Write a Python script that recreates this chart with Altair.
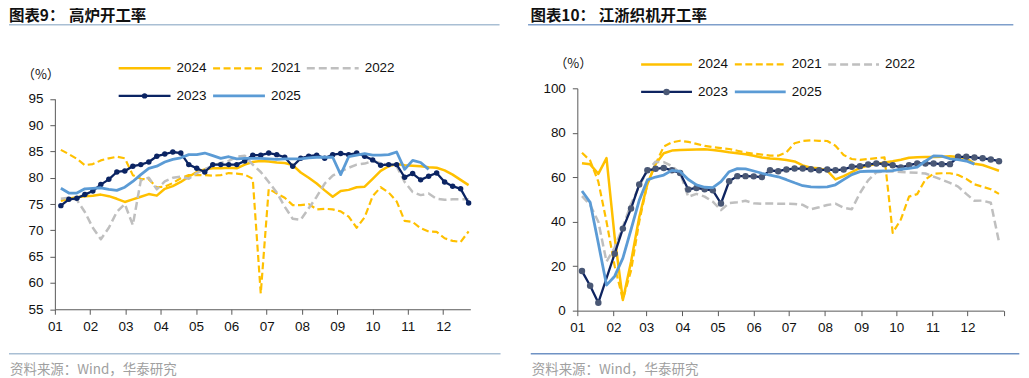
import altair as alt
import pandas as pd

# ================= 图表9：高炉开工率 (weekly) =================
L_WEEK_X0 = 1.17      # first weekly observation, month-number units (01 = 1)
L_WEEK_STEP = 0.2265  # one week, in months
L_2024 = [75.6, 76.0, 76.3, 76.5, 76.6, 76.8, 76.5, 76.0, 75.4, 75.9,
          76.4, 76.9, 76.6, 77.9, 78.4, 79.2, 80.2, 81.1, 81.6, 81.8,
          81.8, 81.9, 81.8, 82.5, 83.0, 83.2, 83.1, 82.9, 82.8, 82.4,
          81.0, 80.0, 78.9, 77.6, 76.4, 77.5, 77.7, 78.2, 78.3, 79.8,
          81.3, 82.2, 82.6, 82.4, 82.3, 82.2, 82.0, 81.9, 81.4, 80.6,
          79.6, 78.6]
L_2021 = [85.3, 84.5, 83.6, 82.4, 82.6, 83.3, 83.7, 84.0, 83.7, 80.5,
          79.8, 79.7, 78.2, 78.3, 79.0, 79.9, 80.5, 80.5, 80.5, 80.4,
          80.5, 80.9, 80.8, 80.6, 79.8, 58.0, 77.9, 77.0, 76.2, 74.8,
          74.8, 75.0, 74.0, 74.1, 74.0, 73.6, 72.6, 70.5, 72.5, 76.5,
          78.2, 77.2, 75.5, 71.8, 71.6, 70.4, 69.8, 69.7, 68.5, 68.0,
          67.8, 69.8]
L_2022 = [76.0, 76.2, 75.8, 73.5, 70.5, 68.3, 70.5, 73.5, 75.0, 71.0,
          79.5, 80.0, 77.8, 79.3, 80.0, 80.2, 79.8, 80.9, 81.6, 82.3,
          82.8, 83.2, 84.0, 84.2, 82.5, 81.1, 79.2, 77.2, 74.5, 72.2,
          72.0, 74.2, 76.4, 78.9, 80.4, 81.2, 81.9, 82.5, 82.7, 83.2,
          82.8, 82.4, 82.2, 79.2, 77.3, 76.7, 77.0, 76.0, 75.8, 75.9,
          75.9, 75.9]
L_2023 = [74.7, 75.9, 76.1, 76.8, 77.5, 78.7, 79.7, 81.1, 81.3, 82.2,
          82.5, 83.0, 84.1, 84.5, 84.9, 84.7, 82.5, 81.8, 81.1, 82.5,
          82.5, 82.5, 82.5, 83.2, 84.3, 84.3, 84.7, 84.4, 83.9, 82.2,
          83.7, 84.1, 84.3, 83.7, 84.4, 84.6, 84.4, 84.7, 84.1, 83.4,
          82.4, 82.5, 82.5, 80.1, 80.8, 79.6, 80.3, 80.9, 79.2, 78.4,
          77.9, 75.2]
L_2025 = [78.0, 77.1, 77.1, 77.9, 78.0, 78.1, 77.8, 77.6, 78.2, 79.3,
          80.6, 81.8, 82.2, 83.0, 83.5, 83.8, 84.4, 84.4, 84.7, 84.2,
          83.7, 84.0, 83.6, 83.7, 83.7, 83.7, 83.6, 83.5, 83.6, 83.6,
          83.6, 83.8, 83.9, 83.9, 83.9, 80.6, 84.0, 84.3, 84.6, 84.3,
          84.3, 84.4, 84.9, 81.6, 83.3, 82.9, 81.6,
          None, None, None, None, None]
L_YTICKS = [55, 60, 65, 70, 75, 80, 85, 90, 95]
L_XTICKS = list(range(1, 13))

# ================= 图表10：江浙织机开工率 (weekly, dates) =================
R_FIRST_DATE = "2023-01-05"
R_2024 = [66.3, 65.8, 61.5, 68.6, 33.0, 4.8, 22.0, 42.0, 57.0, 66.0,
          70.8, 72.0, 72.3, 72.4, 72.5, 72.6, 72.3, 71.8, 71.2, 70.8,
          70.3, 69.7, 68.9, 68.4, 68.2, 67.8, 67.1, 65.3, 64.3, 64.0,
          63.0, 59.0, 60.5, 62.3, 64.2, 65.3, 66.0, 66.6, 67.2, 67.9,
          68.8, 69.0, 69.1, 69.1, 69.2, 69.4, 69.1, 68.5, 66.1, 65.5,
          64.2, 62.9]
R_2021 = [71.0, 67.5, 58.0, 40.0, 20.0, 5.0, 18.0, 40.0, 57.0, 66.0,
          73.8, 75.7, 76.4, 75.9, 75.0, 74.1, 73.6, 73.1, 72.7, 71.9,
          71.1, 70.6, 70.2, 69.7, 69.7, 71.2, 75.3, 76.3, 76.6, 76.4,
          76.3, 74.2, 70.0, 68.2, 67.8, 68.2, 68.6, 68.9, 35.0, 41.0,
          51.3, 52.4, 59.0, 61.6, 61.8, 61.8, 61.0, 59.3, 56.8, 55.7,
          54.6, 52.5]
R_2022 = [51.5, 47.5, 40.0, 22.0, 28.4, 37.7, 48.0, 56.0, 63.0, 67.0,
          66.8, 65.0, 62.0, 51.2, 52.5, 51.3, 49.0, 45.2, 48.4, 48.8,
          49.4, 48.3, 48.1, 48.2, 48.1, 48.1, 48.0, 47.6, 45.6, 46.5,
          47.5, 48.1, 46.3, 45.6, 52.9, 58.6, 62.2, 62.6, 62.6, 62.4,
          62.2, 62.0, 61.7, 60.3, 58.9, 57.5, 55.8, 52.5, 49.4, 49.5,
          48.5, 31.0]
R_2023 = [17.8, 11.2, 3.6, None, 25.6, 36.9, 45.9, 56.7, 63.1, 63.8,
          64.2, 63.1, 61.9, 54.5, 55.2, 54.6, 54.1, 48.2, 58.2, 60.5,
          60.5, 60.4, 60.1, 63.1, 62.7, 63.5, 63.9, 63.9, 63.6, 63.1,
          63.5, 63.1, 63.5, 64.7, 65.0, 65.7, 66.2, 65.9, 65.4, 64.4,
          65.4, 66.2, 66.2, 66.2, 65.9, 65.9, 69.2, 69.2, 68.9, 68.5,
          68.0, 67.2]
R_2025 = [53.8, 48.7, 30.3, 11.5, 15.5, 23.6, 36.5, 49.6, 58.8, 60.1,
          61.0, 63.1, 62.6, 59.0, 56.6, 55.5, 55.3, 58.0, 62.5, 63.9,
          63.8, 62.8, 61.8, 60.9, 60.2, 58.9, 57.5, 56.2, 55.7, 55.6,
          55.7, 56.6, 58.9, 61.2, 62.5, 62.7, 62.7, 62.8, 63.0, 63.6,
          64.0, 64.5, 67.2, 69.6, 69.5, 68.3, 67.9, 67.3, 65.9,
          None, None, None]
R_YTICKS = [0, 20, 40, 60, 80, 100]

LEGEND_ORDER = ["2024", "2021", "2022", "2023", "2025"]

# ---------------- styles ----------------
GOLD = "#FFC000"
GREY = "#BFBFBF"
NAVY = "#0B2463"
NAVY_R = "#0E2460"
MARK_R = "#4A5875"
BLUE = "#5B9BD5"
FONT = "Liberation Sans"
CJK = "Noto Sans CJK SC"

STYLE = {
    "2024": dict(color=GOLD, strokeWidth=2.5),
    "2021": dict(color=GOLD, strokeWidth=2.2, strokeDash=[7, 3.5]),
    "2022": dict(color=GREY, strokeWidth=2.5, strokeDash=[8, 4]),
    "2023": dict(color=NAVY, strokeWidth=2.3),
    "2025": dict(color=BLUE, strokeWidth=2.8),
}

ONE = pd.DataFrame({"a": [0]})


def frame(xs, ys):
    return pd.DataFrame({"x": xs, "v": ys}).dropna()


def hrule(x1, x2, y, color, width, dash=None, opacity=1):
    mk = dict(color=color, strokeWidth=width, strokeCap="butt", opacity=opacity)
    if dash:
        mk["strokeDash"] = dash
    return alt.Chart(ONE).mark_rule(**mk).encode(
        x=alt.value(x1), x2=alt.value(x2), y=alt.value(y))


def label(x, y, text, size, color, font, weight="normal"):
    return alt.Chart(ONE).mark_text(
        text=text, fontSize=size, color=color, font=font, fontWeight=weight,
        align="left", baseline="middle").encode(x=alt.value(x), y=alt.value(y))


def dot(x, y, color, size):
    return alt.Chart(ONE).mark_point(
        filled=True, opacity=1, size=size, color=color, strokeWidth=0).encode(
        x=alt.value(x), y=alt.value(y))


AX = dict(grid=False, title=None, domainColor="#595959", tickColor="#595959",
          domainWidth=1, tickWidth=1, tickSize=5, labelFont=FONT, ticks=True, domain=True,
          labelFontSize=13.5, labelColor="#111111", labelOverlap=False)


def build_panel(xvals, xtype, series, xs, ys, xaxis, yaxis, marker_color, marker_size, navy,
                titles, rule, foot, pct, leg_cols, leg_rows, leg_len, anchor=None):
    layers = []
    for name in LEGEND_ORDER:
        st = dict(STYLE[name])
        if name == "2023":
            st["color"] = navy
        df = frame(xvals, series[name])
        layers.append(alt.Chart(df).mark_line(strokeCap="butt", strokeJoin="round", **st).encode(
            x=alt.X("x:" + xtype, scale=xs, axis=xaxis),
            y=alt.Y("v:Q", scale=ys, axis=yaxis)))
        if name == "2023":
            layers.append(alt.Chart(df).mark_point(
                filled=True, opacity=1, size=marker_size, color=marker_color, strokeWidth=0).encode(
                x=alt.X("x:" + xtype, scale=xs, axis=xaxis),
                y=alt.Y("v:Q", scale=ys, axis=yaxis)))
    if anchor is not None:
        layers.append(hrule(anchor[0], anchor[0] + 1, anchor[1], "#ffffff", 0.5, opacity=0))
    ty = -72.2
    layers.append(label(titles[0][0], ty, titles[0][1], 15.5, "#111111", CJK, "bold"))
    layers.append(label(titles[1][0], ty, titles[1][1], 15.5, "#111111", CJK, "bold"))
    layers.append(hrule(rule[0], rule[1], -63.7, rule[2], 1.5))
    layers.append(hrule(foot[0], foot[1], 266.3, foot[2], 1.5))
    layers.append(label(foot[0] + 1, 282.3, "资料来源：Wind，华泰研究", 13.5, "#A0A0A0", CJK))
    layers.append(label(pct[0], pct[1], "（%）", 13, "#111111", CJK))
    slots = [(0, 0), (1, 0), (2, 0), (0, 1), (1, 1)]
    for name, (c, r) in zip(LEGEND_ORDER, slots):
        x1 = leg_cols[c]
        y = leg_rows[r]
        st = STYLE[name]
        col = navy if name == "2023" else st["color"]
        layers.append(hrule(x1, x1 + leg_len, y, col, st["strokeWidth"], st.get("strokeDash")))
        if name == "2023":
            layers.append(dot(x1 + leg_len / 2, y, marker_color, marker_size))
        layers.append(label(x1 + leg_len + 6, y, name, 13.5, "#111111", FONT))
    return alt.layer(*layers)


# ---- left panel ----
L_X = [round(L_WEEK_X0 + L_WEEK_STEP * i, 4) for i in range(len(L_2024))]
LW, LH = 416.7, 221.6
left = build_panel(
    L_X, "Q",
    {"2024": L_2024, "2021": L_2021, "2022": L_2022, "2023": L_2023, "2025": L_2025},
    xs=alt.Scale(domain=[1, 12.77], nice=False, zero=False),
    ys=alt.Scale(domain=[55, 95], range=[LH, 10.6], nice=False, zero=False),
    xaxis=alt.Axis(values=L_XTICKS, format="02d", labelPadding=5, labelFlush=False, **AX),
    yaxis=alt.Axis(values=L_YTICKS, labelPadding=7, **AX),
    marker_color=NAVY, marker_size=30, navy=NAVY,
    titles=[(-46, "图表9："), (14.3, "高炉开工率")],
    rule=(-46, 446, "#A9BFD4"), foot=(-46, 447, "#A9BFD4"),
    pct=(-33, -13.4),
    leg_cols=[64, 158.7, 252.7], leg_rows=[-20, 7.6], leg_len=52,
    anchor=(-46, -79.7),
).properties(width=LW, height=LH)

# ---- right panel ----
R_X = [(pd.Timestamp(R_FIRST_DATE) + pd.Timedelta(days=7 * k)).strftime("%Y-%m-%d")
       for k in range(len(R_2024))]
RW, RH = 427.6, 223
R_TICKS = [alt.DateTime(year=2023, month=m, date=1, utc=True) for m in range(1, 13)]
R_TICKS.append(alt.DateTime(year=2024, month=1, date=1, utc=True))
right = build_panel(
    R_X, "T",
    {"2024": R_2024, "2021": R_2021, "2022": R_2022, "2023": R_2023, "2025": R_2025},
    xs=alt.Scale(type="utc", nice=False,
                 domain=[alt.DateTime(year=2023, month=1, date=1, utc=True),
                         alt.DateTime(year=2024, month=1, date=1, utc=True)]),
    ys=alt.Scale(domain=[0, 100], nice=False, zero=False),
    xaxis=alt.Axis(values=R_TICKS, format="%m", labelPadding=5, labelFlush=False,
                   labelExpr="datum.value >= 1704067200000 ? '' : datum.label", **AX),
    yaxis=alt.Axis(values=R_YTICKS, labelPadding=7, **AX),
    marker_color=MARK_R, marker_size=42, navy=NAVY_R,
    titles=[(-47, "图表10："), (21.6, "江浙织机开工率")],
    rule=(-49.4, 437.3, "#7F9FCB"), foot=(-46.7, 443.3, "#6F92C4"),
    pct=(-23, -24),
    leg_cols=[64, 158, 251.6], leg_rows=[-24, 3.6], leg_len=51,
).properties(width=RW, height=RH)

chart = alt.hconcat(left, right, spacing=107, bounds="flush", padding=0).configure_view(stroke=None)

chart.save("out.html", embed_options={"renderer": "svg", "actions": False})
